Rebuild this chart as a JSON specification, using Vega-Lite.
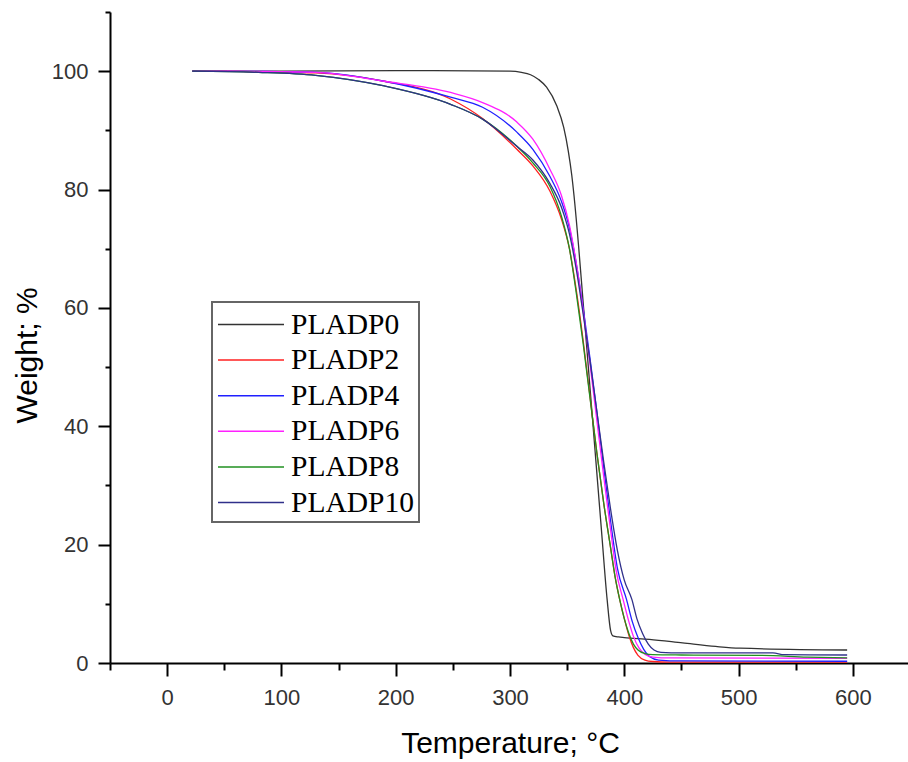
{
  "$schema": "https://vega.github.io/schema/vega-lite/v6.json",
  "width": 800,
  "height": 651,
  "autosize": {"type": "none"},
  "padding": {"left": 110, "top": 12, "right": 0, "bottom": 99},
  "background": "white",
  "config": {"view": {"stroke": null}, "legend": {"strokeWidth": 2}},
  "datasets": {
    "tga": [
      {"s": "PLADP0", "t": 22, "w": 100}, {"s": "PLADP0", "t": 100, "w": 100}, {"s": "PLADP0", "t": 200, "w": 100.1}, {"s": "PLADP0", "t": 300, "w": 100},
      {"s": "PLADP0", "t": 310, "w": 99.8}, {"s": "PLADP0", "t": 318, "w": 99.4}, {"s": "PLADP0", "t": 325, "w": 98.6}, {"s": "PLADP0", "t": 332, "w": 97.3},
      {"s": "PLADP0", "t": 341, "w": 94.1}, {"s": "PLADP0", "t": 347, "w": 90.5}, {"s": "PLADP0", "t": 351, "w": 86.5}, {"s": "PLADP0", "t": 354, "w": 82.5},
      {"s": "PLADP0", "t": 356, "w": 79}, {"s": "PLADP0", "t": 360, "w": 70.5}, {"s": "PLADP0", "t": 365, "w": 58.5}, {"s": "PLADP0", "t": 370, "w": 46.5},
      {"s": "PLADP0", "t": 375, "w": 34.5}, {"s": "PLADP0", "t": 380, "w": 22.5}, {"s": "PLADP0", "t": 385, "w": 10.7}, {"s": "PLADP0", "t": 388, "w": 5.5},
      {"s": "PLADP0", "t": 390, "w": 4.6}, {"s": "PLADP0", "t": 395, "w": 4.4}, {"s": "PLADP0", "t": 400, "w": 4.3}, {"s": "PLADP0", "t": 422, "w": 4.0},
      {"s": "PLADP0", "t": 451, "w": 3.4}, {"s": "PLADP0", "t": 480, "w": 2.8}, {"s": "PLADP0", "t": 501, "w": 2.5}, {"s": "PLADP0", "t": 595, "w": 2.2},

      {"s": "PLADP2", "t": 22, "w": 100}, {"s": "PLADP2", "t": 50, "w": 100}, {"s": "PLADP2", "t": 80, "w": 99.9}, {"s": "PLADP2", "t": 130, "w": 99.7},
      {"s": "PLADP2", "t": 190, "w": 98.3}, {"s": "PLADP2", "t": 248, "w": 95.3}, {"s": "PLADP2", "t": 276, "w": 92}, {"s": "PLADP2", "t": 306, "w": 86.8},
      {"s": "PLADP2", "t": 320, "w": 84}, {"s": "PLADP2", "t": 335, "w": 79.7}, {"s": "PLADP2", "t": 345, "w": 75}, {"s": "PLADP2", "t": 352, "w": 70},
      {"s": "PLADP2", "t": 358, "w": 63}, {"s": "PLADP2", "t": 364, "w": 54.5}, {"s": "PLADP2", "t": 370, "w": 45}, {"s": "PLADP2", "t": 376, "w": 35.5},
      {"s": "PLADP2", "t": 382, "w": 27}, {"s": "PLADP2", "t": 388, "w": 19.5}, {"s": "PLADP2", "t": 392, "w": 14.5}, {"s": "PLADP2", "t": 396, "w": 10.7},
      {"s": "PLADP2", "t": 400, "w": 7.5}, {"s": "PLADP2", "t": 404, "w": 4.7}, {"s": "PLADP2", "t": 408, "w": 2.6}, {"s": "PLADP2", "t": 412, "w": 1.3},
      {"s": "PLADP2", "t": 418, "w": 0.5}, {"s": "PLADP2", "t": 425, "w": 0.25}, {"s": "PLADP2", "t": 440, "w": 0.15}, {"s": "PLADP2", "t": 595, "w": 0.15},

      {"s": "PLADP4", "t": 22, "w": 100}, {"s": "PLADP4", "t": 80, "w": 99.95}, {"s": "PLADP4", "t": 130, "w": 99.8}, {"s": "PLADP4", "t": 190, "w": 98.3},
      {"s": "PLADP4", "t": 248, "w": 95.6}, {"s": "PLADP4", "t": 276, "w": 93.9}, {"s": "PLADP4", "t": 306, "w": 89.7}, {"s": "PLADP4", "t": 320, "w": 86.8},
      {"s": "PLADP4", "t": 335, "w": 82.2}, {"s": "PLADP4", "t": 345, "w": 78}, {"s": "PLADP4", "t": 352, "w": 73.5}, {"s": "PLADP4", "t": 358, "w": 67.5},
      {"s": "PLADP4", "t": 364, "w": 60}, {"s": "PLADP4", "t": 370, "w": 51.5}, {"s": "PLADP4", "t": 376, "w": 42.5}, {"s": "PLADP4", "t": 382, "w": 33},
      {"s": "PLADP4", "t": 388, "w": 24}, {"s": "PLADP4", "t": 394, "w": 16}, {"s": "PLADP4", "t": 402, "w": 10.7}, {"s": "PLADP4", "t": 407, "w": 7},
      {"s": "PLADP4", "t": 412, "w": 4.3}, {"s": "PLADP4", "t": 417, "w": 2.3}, {"s": "PLADP4", "t": 422, "w": 1.1}, {"s": "PLADP4", "t": 430, "w": 0.5},
      {"s": "PLADP4", "t": 450, "w": 0.35}, {"s": "PLADP4", "t": 595, "w": 0.3},

      {"s": "PLADP6", "t": 22, "w": 100}, {"s": "PLADP6", "t": 80, "w": 99.95}, {"s": "PLADP6", "t": 130, "w": 99.8}, {"s": "PLADP6", "t": 190, "w": 98.3},
      {"s": "PLADP6", "t": 248, "w": 96.4}, {"s": "PLADP6", "t": 276, "w": 94.7}, {"s": "PLADP6", "t": 306, "w": 91.4}, {"s": "PLADP6", "t": 320, "w": 88.5},
      {"s": "PLADP6", "t": 335, "w": 83.4}, {"s": "PLADP6", "t": 345, "w": 79}, {"s": "PLADP6", "t": 352, "w": 74}, {"s": "PLADP6", "t": 358, "w": 67.5},
      {"s": "PLADP6", "t": 364, "w": 59.5}, {"s": "PLADP6", "t": 370, "w": 50.5}, {"s": "PLADP6", "t": 376, "w": 41}, {"s": "PLADP6", "t": 382, "w": 31.5},
      {"s": "PLADP6", "t": 388, "w": 22.5}, {"s": "PLADP6", "t": 393, "w": 15.5}, {"s": "PLADP6", "t": 399, "w": 10.7}, {"s": "PLADP6", "t": 404, "w": 7},
      {"s": "PLADP6", "t": 408, "w": 4.5}, {"s": "PLADP6", "t": 413, "w": 2.5}, {"s": "PLADP6", "t": 418, "w": 1.5}, {"s": "PLADP6", "t": 425, "w": 1.0},
      {"s": "PLADP6", "t": 440, "w": 0.85}, {"s": "PLADP6", "t": 595, "w": 0.8},

      {"s": "PLADP8", "t": 22, "w": 100}, {"s": "PLADP8", "t": 80, "w": 99.8}, {"s": "PLADP8", "t": 130, "w": 99.3}, {"s": "PLADP8", "t": 190, "w": 97.5},
      {"s": "PLADP8", "t": 248, "w": 94.4}, {"s": "PLADP8", "t": 276, "w": 91.9}, {"s": "PLADP8", "t": 306, "w": 87.3}, {"s": "PLADP8", "t": 320, "w": 84.5},
      {"s": "PLADP8", "t": 335, "w": 80.5}, {"s": "PLADP8", "t": 345, "w": 75.5}, {"s": "PLADP8", "t": 352, "w": 70}, {"s": "PLADP8", "t": 358, "w": 62.5},
      {"s": "PLADP8", "t": 364, "w": 54}, {"s": "PLADP8", "t": 370, "w": 44.8}, {"s": "PLADP8", "t": 376, "w": 35.5}, {"s": "PLADP8", "t": 382, "w": 27},
      {"s": "PLADP8", "t": 388, "w": 19.5}, {"s": "PLADP8", "t": 392, "w": 14.5}, {"s": "PLADP8", "t": 396, "w": 10.7}, {"s": "PLADP8", "t": 400, "w": 7.5},
      {"s": "PLADP8", "t": 404, "w": 5}, {"s": "PLADP8", "t": 408, "w": 3.2}, {"s": "PLADP8", "t": 412, "w": 2.2}, {"s": "PLADP8", "t": 418, "w": 1.6},
      {"s": "PLADP8", "t": 425, "w": 1.4}, {"s": "PLADP8", "t": 450, "w": 1.35}, {"s": "PLADP8", "t": 520, "w": 1.3}, {"s": "PLADP8", "t": 560, "w": 1.0},
      {"s": "PLADP8", "t": 595, "w": 0.85},

      {"s": "PLADP10", "t": 22, "w": 100}, {"s": "PLADP10", "t": 80, "w": 99.8}, {"s": "PLADP10", "t": 130, "w": 99.3}, {"s": "PLADP10", "t": 190, "w": 97.5},
      {"s": "PLADP10", "t": 248, "w": 94.4}, {"s": "PLADP10", "t": 276, "w": 91.9}, {"s": "PLADP10", "t": 306, "w": 87.3}, {"s": "PLADP10", "t": 320, "w": 85},
      {"s": "PLADP10", "t": 335, "w": 81}, {"s": "PLADP10", "t": 345, "w": 77}, {"s": "PLADP10", "t": 352, "w": 72.5}, {"s": "PLADP10", "t": 358, "w": 66.5},
      {"s": "PLADP10", "t": 364, "w": 59}, {"s": "PLADP10", "t": 370, "w": 51}, {"s": "PLADP10", "t": 376, "w": 42.5}, {"s": "PLADP10", "t": 382, "w": 34},
      {"s": "PLADP10", "t": 388, "w": 26}, {"s": "PLADP10", "t": 394, "w": 19}, {"s": "PLADP10", "t": 400, "w": 14}, {"s": "PLADP10", "t": 406.7, "w": 10.7},
      {"s": "PLADP10", "t": 411, "w": 7.5}, {"s": "PLADP10", "t": 416, "w": 5}, {"s": "PLADP10", "t": 421, "w": 3.2}, {"s": "PLADP10", "t": 426, "w": 2.2},
      {"s": "PLADP10", "t": 432, "w": 1.8}, {"s": "PLADP10", "t": 450, "w": 1.7}, {"s": "PLADP10", "t": 530, "w": 1.7}, {"s": "PLADP10", "t": 540, "w": 1.4},
      {"s": "PLADP10", "t": 595, "w": 1.35}
    ]
  },
  "data": {"name": "tga"},
  "mark": {"type": "line", "strokeWidth": 1.3, "interpolate": "monotone"},
  "encoding": {
    "x": {
      "field": "t", "type": "quantitative",
      "scale": {"domain": [-50, 650], "nice": false, "zero": false},
      "axis": {
        "title": "Temperature; °C",
        "values": [-50, 0, 50, 100, 150, 200, 250, 300, 350, 400, 450, 500, 550, 600, 650],
        "labelExpr": "datum.value % 100 === 0 ? datum.label : ''",
        "format": "d",
        "grid": false,
        "domainColor": "black", "domainWidth": 2,
        "tickColor": "black", "tickWidth": 2,
        "tickSize": {"condition": {"test": "datum.value % 100 === 0", "value": 13}, "value": 7},
        "labelFont": "Liberation Sans", "labelFontSize": 22, "labelColor": "#333333",
        "labelPadding": 11, "labelFlush": false, "labelOverlap": false,
        "titleFont": "Liberation Sans", "titleFontSize": 30, "titleFontWeight": "normal", "titleColor": "black",
        "titlePadding": 20
      }
    },
    "y": {
      "field": "w", "type": "quantitative",
      "scale": {"domain": [0, 110], "nice": false},
      "axis": {
        "title": "Weight; %",
        "values": [0, 10, 20, 30, 40, 50, 60, 70, 80, 90, 100, 110],
        "labelExpr": "datum.value % 20 === 0 && datum.value <= 100 ? datum.label : ''",
        "grid": false,
        "domainColor": "black", "domainWidth": 2,
        "tickColor": "black", "tickWidth": 2,
        "tickSize": {"condition": {"test": "datum.value % 20 === 0 && datum.value <= 100", "value": 12}, "value": 5},
        "labelFont": "Liberation Sans", "labelFontSize": 22, "labelColor": "#333333",
        "labelPadding": 10, "labelFlush": false, "labelOverlap": false,
        "titleFont": "Liberation Sans", "titleFontSize": 30, "titleFontWeight": "normal", "titleColor": "black",
        "titlePadding": 9, "titleY": 343
      }
    },
    "color": {
      "field": "s", "type": "nominal",
      "scale": {
        "domain": ["PLADP0", "PLADP2", "PLADP4", "PLADP6", "PLADP8", "PLADP10"],
        "range": ["#333333", "#ff2020", "#2020ff", "#ff20ff", "#209020", "#30308a"]
      },
      "legend": {
        "title": null,
        "orient": "none",
        "legendX": 102,
        "legendY": 290,
        "symbolType": "M-1,0H3",
        "symbolSize": 1089,
        "symbolStrokeWidth": 1.5,
        "labelOffset": 39,
        "labelFont": "Liberation Serif",
        "labelFontSize": 29.5,
        "labelColor": "black",
        "rowPadding": 3.6,
        "padding": 5,
        "strokeColor": "#666666",
        "fillColor": "white"
      }
    },
    "order": {"field": "t", "type": "quantitative"}
  }
}
